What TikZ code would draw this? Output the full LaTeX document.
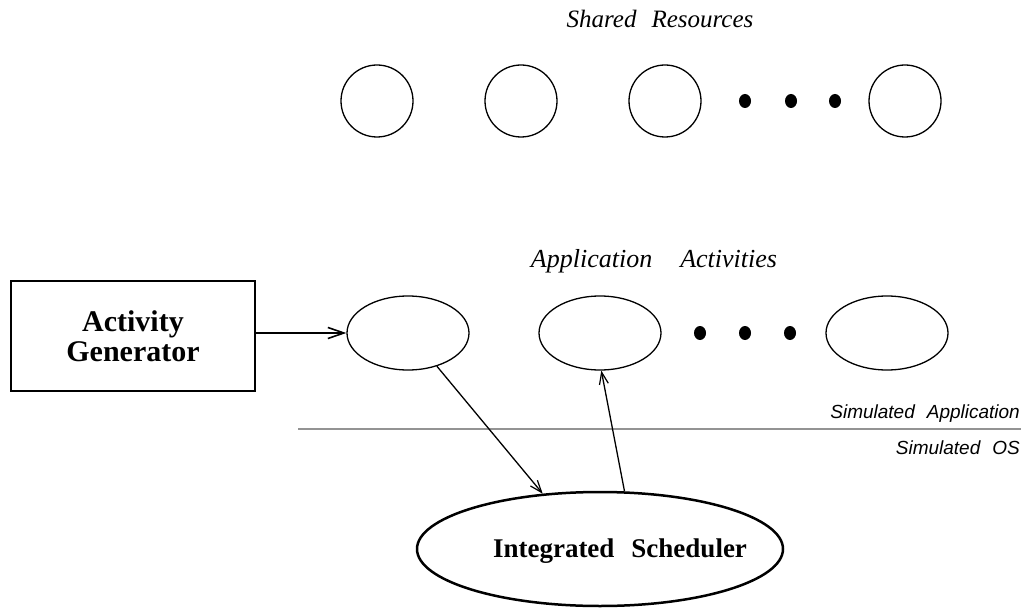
\documentclass[tikz,border=0pt]{standalone}
\usepackage{fontspec}
\setmainfont{Liberation Serif}
\setsansfont{Liberation Sans}
\usetikzlibrary{shapes.geometric,arrows.meta}
\begin{document}
\begin{tikzpicture}[x=1pt,y=-1pt,
  res/.style={circle,draw,line width=1.3pt,minimum size=72pt,inner sep=0pt},
  act/.style={ellipse,draw,line width=1.3pt,minimum width=122pt,minimum height=74pt,inner sep=0pt},
  bigdot/.style={ellipse,fill,minimum width=12pt,minimum height=14pt,inner sep=0pt},
  title/.style={font=\fontsize{25}{30}\selectfont\itshape,anchor=base,inner sep=0pt},
  layer/.style={font=\fontsize{19}{22}\selectfont\sffamily\itshape,anchor=base east,inner sep=0pt},
  link/.style={line width=1.3pt,-{Straight Barb[length=12pt,width=9pt,line width=1.2pt]}}
]
\useasboundingbox (0,0) rectangle (1024,609);

\node[title] (tres) at (660,28) {Shared\hspace{15pt}Resources};
\node[res] (r1) at (377,101) {};
\node[res] (r2) at (521,101) {};
\node[res] (r3) at (665,101) {};
\node[bigdot] (rd1) at (745,101) {};
\node[bigdot] (rd2) at (791,101) {};
\node[bigdot] (rd3) at (835,101) {};
\node[res] (r4) at (905,101) {};

\node[title,font=\fontsize{26}{30}\selectfont\itshape] (tact) at (654,268) {Application\hspace{28pt}Activities};
\node[act] (e1) at (408,333) {};
\node[act] (e2) at (600,333) {};
\node[bigdot] (ad1) at (700,333) {};
\node[bigdot] (ad2) at (745,333) {};
\node[bigdot] (ad3) at (790,333) {};
\node[act] (e3) at (887,333) {};

\node[draw,line width=2pt,minimum width=244pt,minimum height=110pt,inner sep=0pt,
      align=center,font=\fontsize{30}{30}\selectfont\bfseries] (gen) at (133,336) {Activity\\Generator};

\draw[line width=2pt,-{Straight Barb[length=16pt,width=11pt,line width=1.6pt]}] (gen.east |- e1.west) -- (e1.west);

\coordinate (sepL) at (298,429);
\coordinate (sepR) at (1021,429);
\draw[line width=1.5pt,gray!85] (sepL) -- (sepR);
\node[layer] (tapp) at (1020,418) {Simulated\hspace{12pt}Application};
\node[layer] (tos) at (1020,454) {Simulated\hspace{12pt}OS};

\node[ellipse,draw,line width=2.5pt,minimum width=366pt,minimum height=114pt,inner sep=0pt] (sch) at (600,549) {};
\node[font=\fontsize{27}{32}\selectfont\bfseries,anchor=base,inner sep=0pt] (tsch) at (620,557) {Integrated\hspace{17pt}Scheduler};

\draw[link] (e1.-49) -- (sch.136);
\draw[link] (sch.67) -- (e2.-88);
\end{tikzpicture}
\end{document}
